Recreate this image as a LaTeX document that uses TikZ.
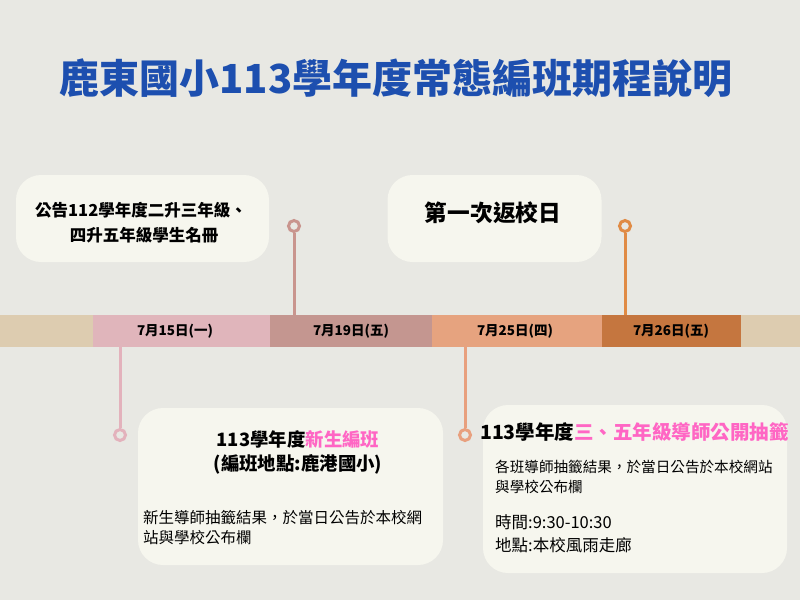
\documentclass[tikz,border=0pt]{standalone}
\usepackage{fontspec}
\newfontfamily\cjk{Noto Sans CJK TC}
\definecolor{bg}{HTML}{E8E8E3}
\definecolor{boxc}{HTML}{F6F6EE}
\definecolor{titleblue}{HTML}{1D4FAF}
\definecolor{hot}{HTML}{FF66C4}
\definecolor{tan}{HTML}{DDCCB0}
\definecolor{segA}{HTML}{E0B5BB}
\definecolor{segB}{HTML}{C49690}
\definecolor{segC}{HTML}{E6A37F}
\definecolor{segD}{HTML}{C5763F}
\definecolor{pinA}{HTML}{C9958E}
\definecolor{pinB}{HTML}{E08B45}
\definecolor{pinC}{HTML}{E3B2BC}
\definecolor{pinD}{HTML}{E8A07E}
\tikzset{
  card/.style={fill=boxc, draw=none, rounded corners=25pt, inner sep=0pt},
  seg/.style={draw=none, inner sep=0pt, minimum height=32pt, font=\cjk\bfseries\fontsize{13.5}{16}\selectfont},
  pin/.style={circle, draw=#1, line width=3pt, fill=bg, minimum size=11pt, inner sep=0pt},
  stem/.style={draw=#1, line width=3pt},
  txt/.style={inner sep=0pt, anchor=base},
  ltxt/.style={inner sep=0pt, anchor=base west},
}
\begin{document}
\begin{tikzpicture}[x=1pt,y=-1pt]
\path[fill=bg, use as bounding box] (0,0) rectangle (800,600);

% title
\node[txt, text=titleblue, font=\cjk\bfseries\fontsize{40}{48}\selectfont] (title) at (396,93) {鹿東國小113學年度常態編班期程說明};

% cards
\node[card, minimum width=253pt, minimum height=87pt] (cardA) at (142.5,218.5) {};
\node[card, minimum width=214pt, minimum height=87pt] (cardB) at (494.5,218.5) {};
\node[card, minimum width=305pt, minimum height=157pt] (cardC) at (290.5,486.5) {};
\node[card, minimum width=304pt, minimum height=168pt] (cardD) at (635,489) {};

% timeline bar
\node[seg, fill=tan, minimum width=93pt] (seg0) at (46.5,331) {};
\node[seg, fill=segA, minimum width=177pt] (seg1) at (181.5,331) {};
\node[seg, fill=segB, minimum width=162pt] (seg2) at (351,331) {};
\node[seg, fill=segC, minimum width=170pt] (seg3) at (517,331) {};
\node[seg, fill=segD, minimum width=139pt] (seg4) at (671.5,331) {};
\node[seg, fill=tan, minimum width=59pt] (seg5) at (770.5,331) {};
\node[seg] (d1) at (175,331) {7月15日(一)};
\node[seg] (d2) at (351,331) {7月19日(五)};
\node[seg] (d3) at (515,331) {7月25日(四)};
\node[seg] (d4) at (671,331) {7月26日(五)};

% pins
\node[pin=pinA] (p1) at (294,226) {};
\node[pin=pinB] (p2) at (625,226) {};
\node[pin=pinC] (p3) at (120,435) {};
\node[pin=pinD] (p4) at (465,435) {};
\draw[stem=pinA] (p1.south) -- (p1.south |- seg2.north);
\draw[stem=pinB] (p2.south) -- (p2.south |- seg4.north);
\draw[stem=pinC] (p3.north) -- (p3.north |- seg1.south);
\draw[stem=pinD] (p4.north) -- (p4.north |- seg3.south);

% card A
\node[txt, font=\cjk\bfseries\fontsize{16.5}{20}\selectfont] (a1) at (141,216) {公告112學年度二升三年級、};
\node[txt, font=\cjk\bfseries\fontsize{16.5}{20}\selectfont] (a2) at (144,241) {四升五年級學生名冊};

% card B
\node[txt, font=\cjk\bfseries\fontsize{22.7}{26}\selectfont] (b1) at (493,221.5) {第一次返校日};

% card C
\node[txt, font=\cjk\bfseries\fontsize{18.4}{22}\selectfont] (c1) at (298,446) {113學年度\textcolor{hot}{新生編班}};
\node[txt, font=\cjk\bfseries\fontsize{18.4}{22}\selectfont] (c2) at (298,470) {(編班地點:鹿港國小)};
\node[ltxt, font=\cjk\fontsize{15.5}{18}\selectfont] (c3) at (143,523) {新生導師抽籤結果，於當日公告於本校網};
\node[ltxt, font=\cjk\fontsize{15.5}{18}\selectfont] (c4) at (143,543) {站與學校公布欄};

% card D
\node[ltxt, font=\cjk\bfseries\fontsize{19.5}{22}\selectfont] (e1) at (480,439.5) {113學年度\textcolor{hot}{三、五年級導師公開抽籤}};
\node[ltxt, font=\cjk\fontsize{14.6}{18}\selectfont] (e2) at (495,472.5) {各班導師抽籤結果，於當日公告於本校網站};
\node[ltxt, font=\cjk\fontsize{14.6}{18}\selectfont] (e3) at (495,492.5) {與學校公布欄};
\node[ltxt, font=\cjk\fontsize{16.5}{20}\selectfont] (e4) at (495,528) {時間:9:30-10:30};
\node[ltxt, font=\cjk\fontsize{16.5}{20}\selectfont] (e5) at (495,551) {地點:本校風雨走廊};
\end{tikzpicture}
\end{document}
